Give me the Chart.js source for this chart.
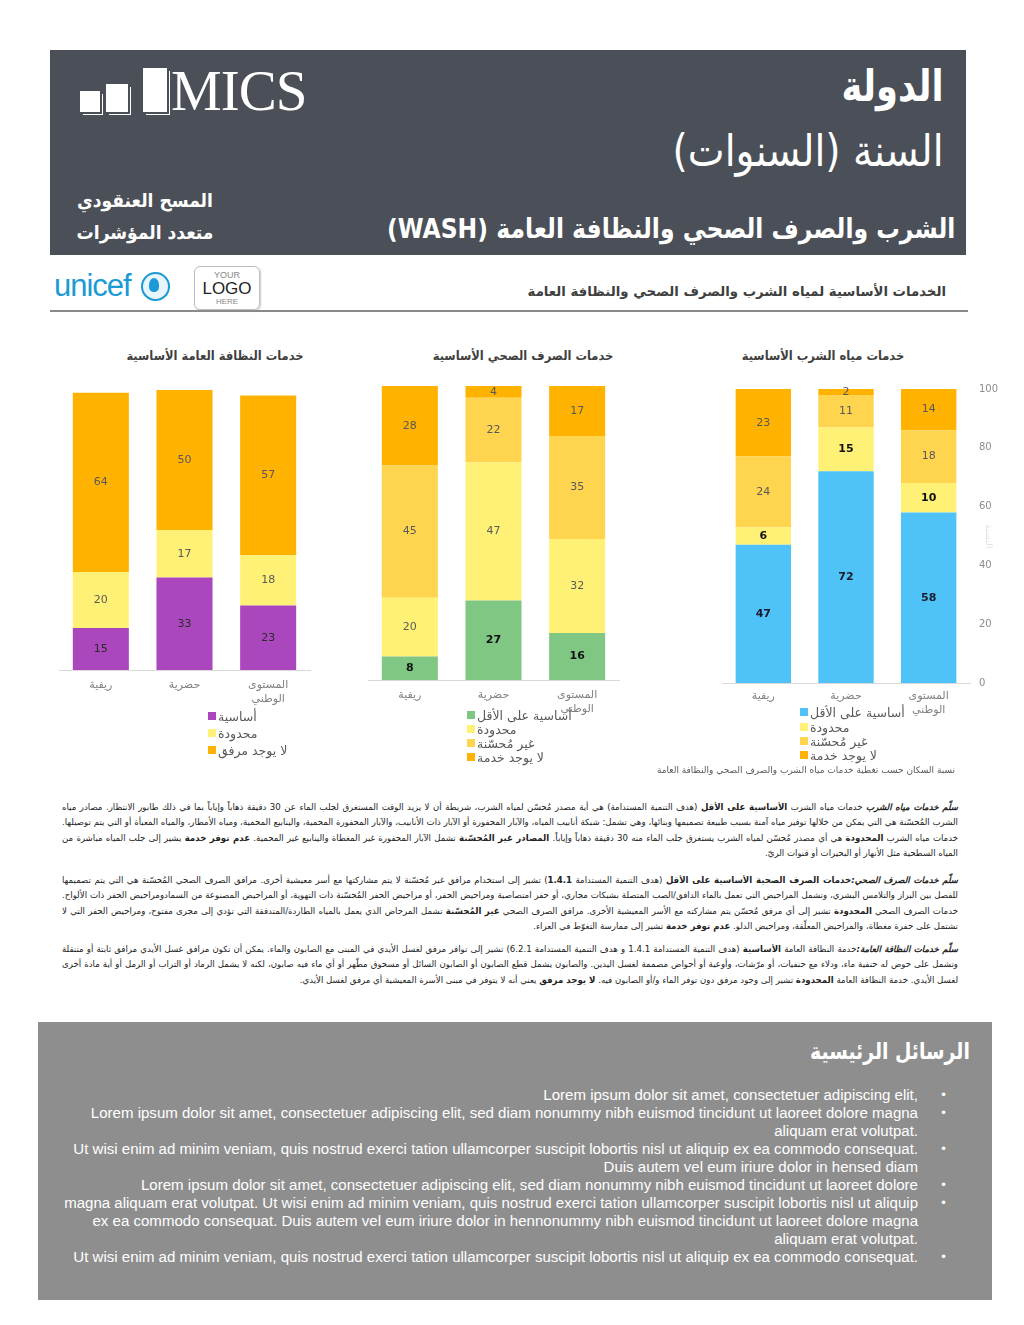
<!DOCTYPE html>
<html lang="ar">
<head>
<meta charset="utf-8">
<script src="https://cdn.jsdelivr.net/npm/chart.js@4.4.0/dist/chart.umd.min.js"></script>
<style>
html,body{margin:0;padding:0;background:#fff;}
body{width:1024px;height:1325px;position:relative;overflow:hidden;font-family:"DejaVu Sans",sans-serif;}
.abs{position:absolute;}
#header{left:50px;top:50px;width:916px;height:205px;background:#4b4f57;}
.hw{color:#fff;white-space:nowrap;}
.sx{transform-origin:100% 50%;}
.bar{position:absolute;background:#fff;box-shadow:2px 2px 0 #4b4f57, 3px 3px 0 #fff;}
.ctitle{font-size:12.5px;font-weight:bold;color:#404040;white-space:nowrap;text-align:center;direction:rtl;transform:scaleX(0.92);}
.legend{font-size:12.5px;color:#595959;}
.legend .item{position:absolute;left:0;display:flex;align-items:center;white-space:nowrap;height:14px;}
.legend .sw{width:8px;height:8px;margin-right:2px;flex:none;}
.desc{left:62px;width:896px;direction:rtl;text-align:justify;font-size:8.6px;line-height:15.3px;color:#222;}
.desc b{font-weight:bold;}
#keybox{left:38px;top:1022px;width:954px;height:278px;background:#8e8e8e;}
.bl{position:absolute;right:106px;color:#fff;font-family:"Liberation Sans",Arial,sans-serif;font-size:15.05px;white-space:nowrap;text-align:right;line-height:18px;}
.dot{position:absolute;left:940px;color:#fff;font-size:12px;line-height:18px;}
</style>
</head>
<body>
<script>
// ---------- data ----------
const categories = ['ريفية', 'حضرية', ['المستوى', 'الوطني']];
const hygieneSeries = ['أساسية', 'محدودة', 'لا يوجد مرفق'];
const hygieneBasic = [15, 33, 23];
const hygieneLimited = [20, 17, 18];
const hygieneNone = [64, 50, 57];
const sanitationSeries = ['أساسية على الأقل', 'محدودة', 'غير مُحسّنة', 'لا يوجد خدمة'];
const sanitationBasic = [8, 27, 16];
const sanitationLimited = [20, 47, 32];
const sanitationUnimproved = [45, 22, 35];
const sanitationNone = [28, 4, 17];
const waterSeries = ['أساسية على الأقل', 'محدودة', 'غير مُحسّنة', 'لا يوجد خدمة'];
const waterBasic = [47, 72, 58];
const waterLimited = [6, 15, 10];
const waterUnimproved = [24, 11, 18];
const waterNone = [23, 2, 14];
const yTicks = [0, 20, 40, 60, 80, 100];
</script>

<div id="header" class="abs"></div>
<!-- MICS logo -->
<div class="bar" style="left:80px;top:91px;width:20px;height:21px;"></div>
<div class="bar" style="left:106px;top:84px;width:22px;height:28px;"></div>
<div class="bar" style="left:143px;top:68px;width:24px;height:44px;"></div>
<div class="abs hw" style="left:171px;top:60px;font-family:'Liberation Serif','DejaVu Serif',serif;font-size:57px;line-height:62px;letter-spacing:-1px;">MICS</div>

<div class="abs hw sx" dir="rtl" style="right:80px;top:58px;font-size:43px;font-weight:bold;line-height:56px;transform:scaleX(0.82);">الدولة</div>
<div class="abs hw sx" dir="rtl" style="right:80px;top:121px;font-size:44px;line-height:60px;transform:scaleX(0.89);">السنة (السنوات)</div>
<div class="abs hw sx" dir="rtl" style="right:69px;top:210px;font-size:27px;font-weight:bold;line-height:38px;transform:scaleX(0.87);">الشرب والصرف الصحي والنظافة العامة (WASH)</div>
<div class="abs hw" dir="rtl" style="left:60px;width:170px;top:184px;text-align:center;font-size:19px;font-weight:bold;line-height:32px;transform:scaleX(0.9);">المسح العنقودي<br>متعدد المؤشرات</div>

<!-- unicef + logo -->
<div class="abs" style="left:54px;top:266px;font-family:'Liberation Sans',Arial,sans-serif;font-size:31px;line-height:40px;color:#1c9ad6;letter-spacing:-1px;">unicef</div>
<div class="abs" style="left:141px;top:272px;width:25px;height:25px;border:2px solid #1c9ad6;border-radius:50%;background:#e8f5fc;"></div>
<div class="abs" style="left:149px;top:278px;width:10px;height:14px;background:#1c9ad6;border-radius:50% 50% 40% 40%;"></div>
<div class="abs" style="left:194px;top:266px;width:64px;height:42px;border:1px solid #bdbdbd;border-radius:6px;box-shadow:1px 1px 2px #ccc;text-align:center;font-family:'Liberation Sans',Arial,sans-serif;">
  <div style="font-size:9px;color:#888;line-height:10px;margin-top:3px;">YOUR</div>
  <div style="font-size:17px;color:#222;line-height:17px;">LOGO</div>
  <div style="font-size:8px;color:#888;line-height:10px;">HERE</div>
</div>
<div class="abs" dir="rtl" style="right:78px;top:282px;font-size:13.3px;font-weight:bold;color:#404040;white-space:nowrap;line-height:20px;">الخدمات الأساسية لمياه الشرب والصرف الصحي والنظافة العامة</div>
<div class="abs" style="left:50px;top:310px;width:918px;height:2px;background:#8a8a8a;"></div>

<!-- chart titles -->
<div class="abs ctitle" style="left:115px;width:200px;top:348px;">خدمات النظافة العامة الأساسية</div>
<div class="abs ctitle" style="left:423px;width:200px;top:348px;">خدمات الصرف الصحي الأساسية</div>
<div class="abs ctitle" style="left:723px;width:200px;top:348px;">خدمات مياه الشرب الأساسية</div>

<canvas id="c1" class="abs" width="270" height="330" style="left:49px;top:380px;"></canvas>
<canvas id="c2" class="abs" width="270" height="344" style="left:358px;top:376px;"></canvas>
<canvas id="c3" class="abs" width="288" height="349" style="left:712px;top:374px;"></canvas>

<div id="lg1" class="abs legend" style="left:208px;top:0;"></div>
<div id="lg2" class="abs legend" style="left:467px;top:0;"></div>
<div id="lg3" class="abs legend" style="left:800px;top:0;"></div>

<div class="abs" dir="rtl" style="right:69px;top:763px;font-size:9px;color:#595959;white-space:nowrap;line-height:14px;">نسبة السكان حسب تغطية خدمات مياه الشرب والصرف الصحي والنظافة العامة</div>

<div class="abs desc" style="top:800px;"><b><i>سلّم خدمات مياه الشرب</i></b> خدمات مياه الشرب <b>الأساسية على الأقل</b> (هدف التنمية المستدامة) هي أية مصدر مُحسّن لمياه الشرب، شريطة أن لا يزيد الوقت المستغرق لجلب الماء عن 30 دقيقة ذهاباً وإياباً بما في ذلك طابور الانتظار. مصادر مياه الشرب المُحسّنة هي التي يمكن من خلالها توفير مياه آمنة بسبب طبيعة تصميمها وبنائها، وهي تشمل: شبكة أنابيب المياه، والآبار المحفورة أو الآبار ذات الأنابيب، والآبار المحفورة المحمية، والينابيع المحمية، ومياه الأمطار، والمياه المعبأة أو التي يتم توصيلها. خدمات مياه الشرب <b>المحدودة</b> هي أي مصدر مُحسّن لمياه الشرب يستغرق جلب الماء منه 30 دقيقة ذهاباً وإياباً. <b>المصادر غير المُحسّنة</b> تشمل الآبار المحفورة غير المغطاة والينابيع غير المحمية. <b>عدم توفر خدمة</b> يشير إلى جلب المياه مباشرة من المياه السطحية مثل الأنهار أو البحيرات أو قنوات الريّ.</div>

<div class="abs desc" style="top:873px;"><b><i>سلّم خدمات الصرف الصحي:</i>خدمات الصرف الصحية الأساسية على الأقل</b> (هدف التنمية المستدامة <b>1.4.1</b>) تشير إلى استخدام مرافق غير مُحسّنة لا يتم مشاركتها مع أسر معيشية أخرى. مرافق الصرف الصحي المُحسّنة هي التي يتم تصميمها للفصل بين البراز والتلامس البشري، وتشمل المراحيض التي تعمل بالماء الدافق/الصب المتصلة بشبكات مجاري، أو حفر امتصاصية ومراحيض الحفر، أو مراحيض الحفر المُحسّنة ذات التهوية، أو المراحيض المصنوعة من السمادومراحيض الحفر ذات الألواح. خدمات الصرف الصحي <b>المحدودة</b> تشير إلى أي مرفق مُحسّن يتم مشاركته مع الأسر المعيشية الأخرى. مرافق الصرف الصحي <b>غير المُحسّنة</b> تشمل المرحاض الذي يعمل بالمياه الطاردة/المتدفقة التي تؤدي إلى مجرى مفتوح، ومراحيض الحفر التي لا تشتمل على حفرة مغطاة، والمراحيض المعلّقة، ومراحيض الدلو. <b>عدم توفر خدمة</b> تشير إلى ممارسة التغوّط في العراء.</div>

<div class="abs desc" style="top:942px;"><b><i>سلّم خدمات النظافة العامة:</i></b>خدمة النظافة العامة <b>الأساسية</b> (هدف التنمية المستدامة 1.4.1 و هدف التنمية المستدامة 6.2.1) تشير إلى توافر مرفق لغسل الأيدي في المبنى مع الصابون والماء. يمكن أن تكون مرافق غسل الأيدي مرافق ثابتة أو متنقلة وتشمل على حوض له حنفية ماء، ودلاء مع حنفيات، أو مرّشات، وأوعية أو أحواض مصممة لغسل اليدين. والصابون يشمل قطع الصابون أو الصابون السائل أو مسحوق مطّهر أو أي ماء فيه صابون، لكنه لا يشمل الرماد أو التراب أو الرمل أو أية مادة أخرى لغسل الأيدي. خدمة النظافة العامة <b>المحدودة</b> تشير إلى وجود مرفق دون توفر الماء و/أو الصابون فيه. <b>لا يوجد مرفق</b> يعني أنه لا يتوفر في مبنى الأسرة المعيشية أي مرفق لغسل الأيدي.</div>

<div id="keybox" class="abs"></div>
<div class="abs hw sx" dir="rtl" style="right:54px;top:1033px;font-size:23px;font-weight:bold;line-height:36px;transform:scaleX(0.82);">الرسائل الرئيسية</div>
<div id="bullets"></div>

<script>
// key messages
const bulletItems = [
  ['Lorem ipsum dolor sit amet, consectetuer adipiscing elit,'],
  ['Lorem ipsum dolor sit amet, consectetuer adipiscing elit, sed diam nonummy nibh euismod tincidunt ut laoreet dolore magna', 'aliquam erat volutpat.'],
  ['Ut wisi enim ad minim veniam, quis nostrud exerci tation ullamcorper suscipit lobortis nisl ut aliquip ex ea commodo consequat.', 'Duis autem vel eum iriure dolor in hensed diam'],
  ['Lorem ipsum dolor sit amet, consectetuer adipiscing elit, sed diam nonummy nibh euismod tincidunt ut laoreet dolore'],
  ['magna aliquam erat volutpat. Ut wisi enim ad minim veniam, quis nostrud exerci tation ullamcorper suscipit lobortis nisl ut aliquip', 'ex ea commodo consequat. Duis autem vel eum iriure dolor in hennonummy nibh euismod tincidunt ut laoreet dolore magna', 'aliquam erat volutpat.'],
  ['Ut wisi enim ad minim veniam, quis nostrud exerci tation ullamcorper suscipit lobortis nisl ut aliquip ex ea commodo consequat.']
];
(function(){
  const host = document.getElementById('bullets');
  let y = 1086;
  bulletItems.forEach(lines => {
    const d = document.createElement('div');
    d.className = 'dot'; d.style.top = y + 'px'; d.textContent = '•';
    host.appendChild(d);
    lines.forEach(t => {
      const l = document.createElement('div');
      l.className = 'bl'; l.style.top = y + 'px'; l.textContent = t;
      host.appendChild(l);
      y += 18;
    });
  });
})();

const COLORS = {
  purple: '#ab47bc', yellow: '#fff176', amber: '#ffd54f', orange: '#ffb300',
  green: '#81c784', blue: '#4fc3f7'
};

const valueLabels = {
  id: 'valueLabels',
  afterDatasetsDraw(chart) {
    const ctx = chart.ctx;
    chart.data.datasets.forEach((ds, i) => {
      const meta = chart.getDatasetMeta(i);
      meta.data.forEach((bar, j) => {
        const p = bar.getProps(['x', 'y', 'base'], true);
        const top = Math.max(p.y, chart.chartArea.top);
        ctx.save();
        ctx.font = (ds.labelBold ? 'bold ' : '') + '11px "DejaVu Sans", sans-serif';
        ctx.fillStyle = ds.labelColor;
        ctx.textAlign = 'center';
        ctx.textBaseline = 'middle';
        ctx.fillText(String(ds.data[j]), p.x, (top + p.base) / 2);
        ctx.restore();
      });
    });
  }
};

function makeChart(id, datasets, opts) {
  const xAxis = {
    stacked: true,
    grid: { display: false, drawTicks: false },
    border: { display: true, color: '#d9d9d9', width: 1 },
    ticks: { color: '#808080', font: { size: 11, family: '"DejaVu Sans", sans-serif' }, padding: opts.tickPad, maxRotation: 0, autoSkip: false },
    afterFit: s => { s.height = 40; }
  };
  const yAxis = {
    stacked: true, min: 0, max: 100,
    display: !!opts.showY,
    position: 'right',
    grid: { display: false, drawTicks: false },
    border: { display: false },
    ticks: { color: '#8c8c8c', font: { size: 10, family: '"DejaVu Sans", sans-serif' }, padding: 9 },
    afterBuildTicks: s => { s.ticks = yTicks.map(v => ({ value: v })); },
    title: { display: !!opts.showY, text: 'النسبة', color: '#e3e3e3', font: { size: 9 }, padding: { top: 6, bottom: 0 } }
  };
  if (opts.showY) yAxis.afterFit = s => { s.width = 30; };
  return new Chart(document.getElementById(id), {
    type: 'bar',
    data: {
      labels: categories,
      datasets: datasets.map(d => Object.assign({ barPercentage: 0.67, categoryPercentage: 1, borderWidth: 0 }, d))
    },
    options: {
      responsive: false,
      animation: false,
      devicePixelRatio: 1,
      layout: { padding: opts.padding },
      plugins: { legend: { display: false }, tooltip: { enabled: false } },
      scales: { x: xAxis, y: yAxis }
    },
    plugins: [valueLabels]
  });
}

makeChart('c1', [
  { label: hygieneSeries[0], data: hygieneBasic, backgroundColor: COLORS.purple, labelColor: '#2b2b2b' },
  { label: hygieneSeries[1], data: hygieneLimited, backgroundColor: COLORS.yellow, labelColor: '#595959' },
  { label: hygieneSeries[2], data: hygieneNone, backgroundColor: COLORS.orange, labelColor: '#595959' }
], { padding: { left: 10, right: 9, top: 10, bottom: 0 }, tickPad: 9 });

makeChart('c2', [
  { label: sanitationSeries[0], data: sanitationBasic, backgroundColor: COLORS.green, labelColor: '#111', labelBold: true },
  { label: sanitationSeries[1], data: sanitationLimited, backgroundColor: COLORS.yellow, labelColor: '#595959' },
  { label: sanitationSeries[2], data: sanitationUnimproved, backgroundColor: COLORS.amber, labelColor: '#595959' },
  { label: sanitationSeries[3], data: sanitationNone, backgroundColor: COLORS.orange, labelColor: '#595959' }
], { padding: { left: 10, right: 9, top: 10, bottom: 0 }, tickPad: 9 });

makeChart('c3', [
  { label: waterSeries[0], data: waterBasic, backgroundColor: COLORS.blue, labelColor: '#1a1a2a', labelBold: true },
  { label: waterSeries[1], data: waterLimited, backgroundColor: COLORS.yellow, labelColor: '#111', labelBold: true },
  { label: waterSeries[2], data: waterUnimproved, backgroundColor: COLORS.amber, labelColor: '#595959' },
  { label: waterSeries[3], data: waterNone, backgroundColor: COLORS.orange, labelColor: '#595959' }
], { padding: { left: 10, right: 0, top: 0, bottom: 0 }, tickPad: 7, showY: true });

function buildLegend(id, names, colors, ys) {
  const host = document.getElementById(id);
  names.forEach((n, i) => {
    const it = document.createElement('div');
    it.className = 'item';
    it.style.top = (ys[i] - 7) + 'px';
    const sw = document.createElement('span'); sw.className = 'sw'; sw.style.background = colors[i];
    const tx = document.createElement('span'); tx.textContent = n; tx.dir = 'rtl';
    it.appendChild(sw); it.appendChild(tx);
    host.appendChild(it);
  });
}
buildLegend('lg1', hygieneSeries, [COLORS.purple, COLORS.yellow, COLORS.orange], [716, 733, 750]);
buildLegend('lg2', sanitationSeries, [COLORS.green, COLORS.yellow, COLORS.amber, COLORS.orange], [715, 729, 743, 757]);
buildLegend('lg3', waterSeries, [COLORS.blue, COLORS.yellow, COLORS.amber, COLORS.orange], [712, 727, 741, 755]);
</script>
</body>
</html>
